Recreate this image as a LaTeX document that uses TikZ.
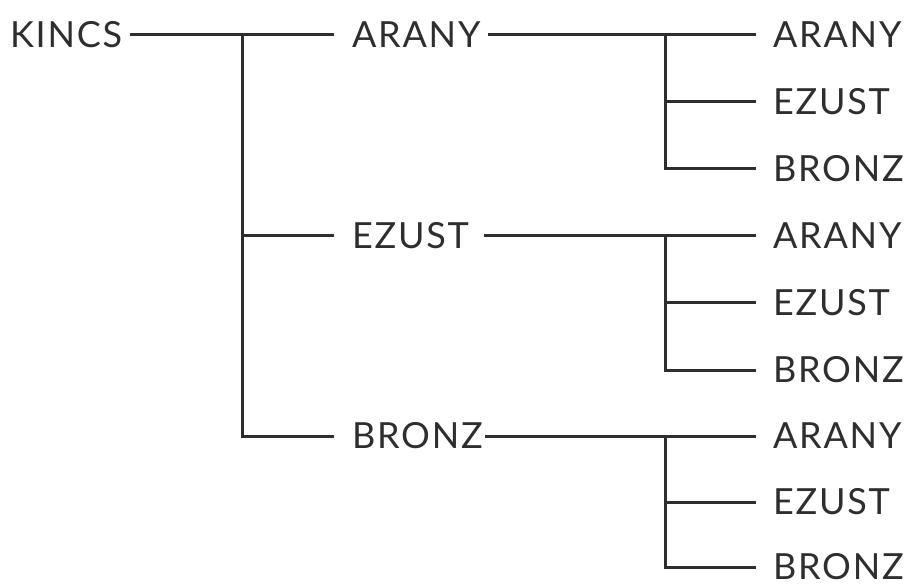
\documentclass[tikz,border=0pt]{standalone}
\usepackage{fontspec}
\setmainfont{Lato}[LetterSpace=5]
\definecolor{ink}{HTML}{2E2E2E}
\begin{document}
\begin{tikzpicture}[x=1pt,y=-1pt,
  lbl/.style={anchor=west,inner sep=0pt,outer sep=0pt,text=ink,font=\fontsize{36}{40}\selectfont},
  conn/.style={draw=ink,line width=3pt,line join=miter}]
\useasboundingbox (0,0) rectangle (919,588);
% root
\node[lbl] (kincs) at (10,35) {KINCS};
% middle level
\node[lbl] (arany) at (352,35) {ARANY};
\node[lbl] (ezust) at (352,236) {EZUST};
\node[lbl] (bronz) at (352,436) {BRONZ};
% leaves
\node[lbl] (aa) at (773,35) {ARANY};
\node[lbl] (ae) at (773,102) {EZUST};
\node[lbl] (ab) at (773,169) {BRONZ};
\node[lbl] (ea) at (773,236) {ARANY};
\node[lbl] (ee) at (773,303) {EZUST};
\node[lbl] (eb) at (773,370) {BRONZ};
\node[lbl] (ba) at (773,436) {ARANY};
\node[lbl] (be) at (773,502) {EZUST};
\node[lbl] (bb) at (773,567) {BRONZ};
% junctions
\coordinate (j0) at (242,35);
\coordinate (ja) at (665,35);
\coordinate (je) at (665,236);
\coordinate (jb) at (665,436);
% root connectors
\draw[conn] ([xshift=8pt]kincs.east) -- ([xshift=-18pt]arany.west);
\draw[conn] (j0) |- ([xshift=-18pt]bronz.west);
\draw[conn] (j0 |- ezust.west) -- ([xshift=-18pt]ezust.west);
% ARANY subtree
\draw[conn] ([xshift=8pt]arany.east) -- ([xshift=-17pt]aa.west);
\draw[conn] (ja) |- ([xshift=-17pt]ab.west);
\draw[conn] (ja |- ae.west) -- ([xshift=-17pt]ae.west);
% EZUST subtree
\draw[conn] ([xshift=15pt]ezust.east) -- ([xshift=-17pt]ea.west);
\draw[conn] (je) |- ([xshift=-17pt]eb.west);
\draw[conn] (je |- ee.west) -- ([xshift=-17pt]ee.west);
% BRONZ subtree
\draw[conn] ([xshift=2pt]bronz.east) -- ([xshift=-17pt]ba.west);
\draw[conn] (jb) |- ([xshift=-17pt]bb.west);
\draw[conn] (jb |- be.west) -- ([xshift=-17pt]be.west);
\end{tikzpicture}
\end{document}
